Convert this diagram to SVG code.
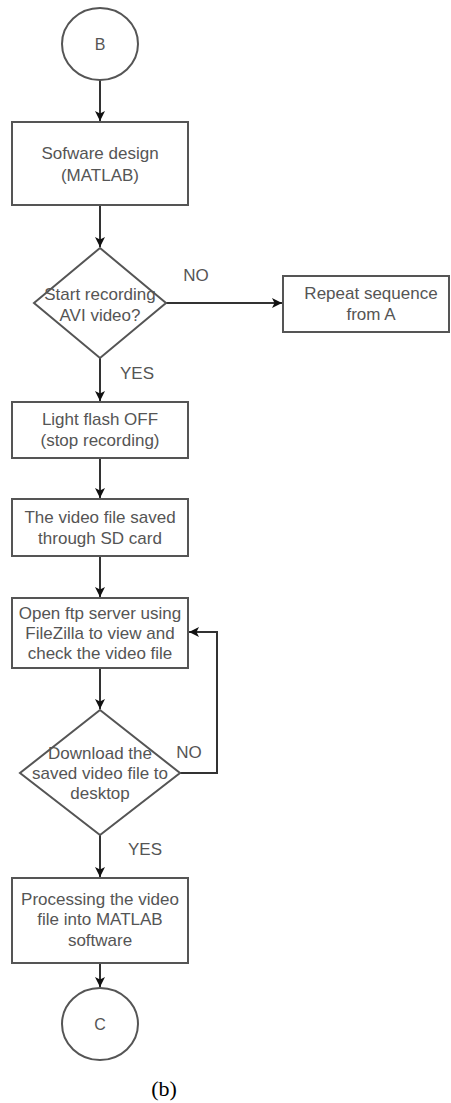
<svg xmlns="http://www.w3.org/2000/svg" width="451" height="1103" viewBox="0 0 451 1103">
<defs>
<marker id="ah" viewBox="0 0 10 10" refX="10" refY="5" markerWidth="10" markerHeight="10" markerUnits="userSpaceOnUse" orient="auto">
<path d="M0,0 L10,5 L0,10 L2.5,5 Z" fill="#111"/>
</marker>
<style>
.shape{fill:#fff;stroke:#555;stroke-width:2}
.t{font-family:"Liberation Sans",Arial,sans-serif;font-size:17px;fill:#555;text-anchor:middle}
.c{fill:none;stroke:#333;stroke-width:2}
</style>
</defs>
<rect width="451" height="1103" fill="#fff"/>
<g id="connectors">
<path class="c" d="M100,80 L100,121" marker-end="url(#ah)"/>
<path class="c" d="M100,205 L100,247" marker-end="url(#ah)"/>
<path class="c" d="M166,303 L282,303" marker-end="url(#ah)"/>
<path class="c" d="M100,358 L100,401" marker-end="url(#ah)"/>
<path class="c" d="M100,458 L100,498" marker-end="url(#ah)"/>
<path class="c" d="M100,556 L100,597" marker-end="url(#ah)"/>
<path class="c" d="M100,668 L100,709" marker-end="url(#ah)"/>
<path class="c" d="M180,773 L217,773 L217,632 L189,632" marker-end="url(#ah)"/>
<path class="c" d="M100,835 L100,877" marker-end="url(#ah)"/>
<path class="c" d="M100,963 L100,987" marker-end="url(#ah)"/>
</g>
<g id="label-no1"><text class="t" x="196" y="281">NO</text></g>
<g id="label-yes1"><text class="t" x="137" y="379">YES</text></g>
<g id="label-no2"><text class="t" x="189" y="758">NO</text></g>
<g id="label-yes2"><text class="t" x="145" y="855">YES</text></g>
<g id="node-b">
<ellipse class="shape" cx="100" cy="44" rx="38" ry="36"/>
<text class="t" x="100" y="50" style="font-size:16px">B</text>
</g>
<g id="node-software">
<rect class="shape" x="12" y="122" width="176" height="83"/>
<text class="t" x="100" y="159">Sofware design</text>
<text class="t" x="100" y="181">(MATLAB)</text>
</g>
<g id="node-start">
<polygon class="shape" points="100,248 166,303 100,358 34,303"/>
<text class="t" x="100" y="300">Start recording</text>
<text class="t" x="100" y="321">AVI video?</text>
</g>
<g id="node-repeat">
<rect class="shape" x="283" y="276" width="166" height="56"/>
<text class="t" x="371" y="299">Repeat sequence</text>
<text class="t" x="371" y="320">from A</text>
</g>
<g id="node-light">
<rect class="shape" x="12" y="402" width="176" height="56"/>
<text class="t" x="100" y="425">Light flash OFF</text>
<text class="t" x="100" y="446">(stop recording)</text>
</g>
<g id="node-saved">
<rect class="shape" x="12" y="499" width="176" height="57"/>
<text class="t" x="100" y="523">The video file saved</text>
<text class="t" x="100" y="544">through SD card</text>
</g>
<g id="node-ftp">
<rect class="shape" x="12" y="598" width="176" height="70"/>
<text class="t" x="100" y="619">Open ftp server using</text>
<text class="t" x="100" y="639">FileZilla to view and</text>
<text class="t" x="100" y="659">check the video file</text>
</g>
<g id="node-download">
<polygon class="shape" points="100,710 180,773 100,835 20,773"/>
<text class="t" x="100" y="759">Download the</text>
<text class="t" x="100" y="779">saved video file to</text>
<text class="t" x="100" y="799">desktop</text>
</g>
<g id="node-processing">
<rect class="shape" x="12" y="878" width="176" height="85"/>
<text class="t" x="100" y="905">Processing the video</text>
<text class="t" x="100" y="925">file into MATLAB</text>
<text class="t" x="100" y="946">software</text>
</g>
<g id="node-c">
<ellipse class="shape" cx="100" cy="1024" rx="38" ry="36"/>
<text class="t" x="100" y="1030" style="font-size:16px">C</text>
</g>
<text x="164" y="1096" style="font-family:'Liberation Serif','Times New Roman',serif;font-size:22px;fill:#000;text-anchor:middle">(b)</text>
</svg>
